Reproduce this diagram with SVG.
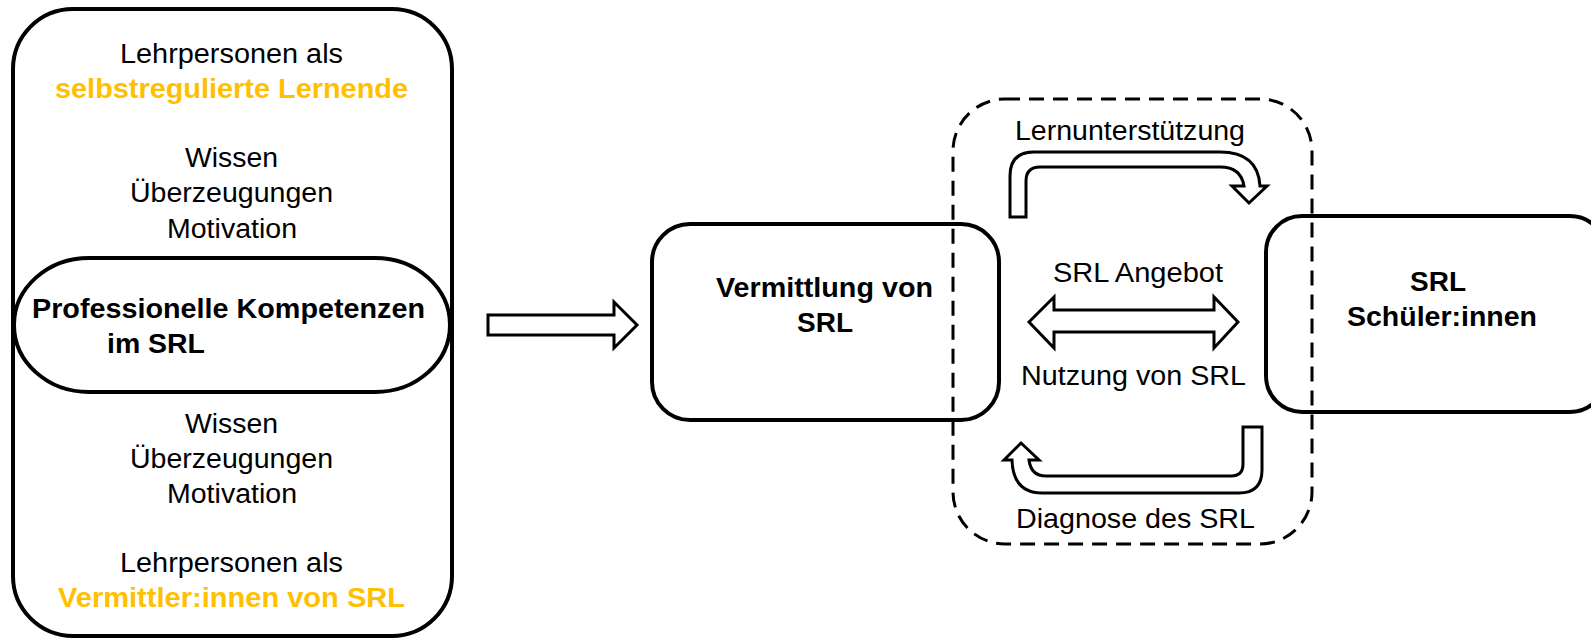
<svg xmlns="http://www.w3.org/2000/svg" width="1591" height="641" viewBox="0 0 1591 641">
<style>
text{font-family:"Liberation Sans",Arial,sans-serif;font-size:27px;fill:#000}
.b{font-weight:bold}
.o{fill:#FFC000}
.box{fill:none;stroke:#000;stroke-width:4}
.arr{fill:#fff;stroke:#000;stroke-width:3;stroke-linejoin:miter}
.dash{fill:none;stroke:#000;stroke-width:3;stroke-dasharray:15 9}
</style>
<rect width="1591" height="641" fill="#fff"/>
<g id="kompetenzen">
<rect class="box" x="13" y="9" width="439" height="627" rx="60" ry="60"/>
<rect class="box" x="14" y="258" width="436" height="134" rx="75" ry="67"/>
<text x="120" y="63" textLength="223" lengthAdjust="spacingAndGlyphs">Lehrpersonen als</text>
<text class="b o" x="55" y="98" textLength="353" lengthAdjust="spacingAndGlyphs">selbstregulierte Lernende</text>
<text x="185" y="167" textLength="93" lengthAdjust="spacingAndGlyphs">Wissen</text>
<text x="130" y="202" textLength="203" lengthAdjust="spacingAndGlyphs">Überzeugungen</text>
<text x="167" y="238" textLength="130" lengthAdjust="spacingAndGlyphs">Motivation</text>
<text class="b" x="32" y="318" textLength="393" lengthAdjust="spacingAndGlyphs">Professionelle Kompetenzen</text>
<text class="b" x="107" y="353" textLength="98" lengthAdjust="spacingAndGlyphs">im SRL</text>
<text x="185" y="433" textLength="93" lengthAdjust="spacingAndGlyphs">Wissen</text>
<text x="130" y="468" textLength="203" lengthAdjust="spacingAndGlyphs">Überzeugungen</text>
<text x="167" y="503" textLength="130" lengthAdjust="spacingAndGlyphs">Motivation</text>
<text x="120" y="572" textLength="223" lengthAdjust="spacingAndGlyphs">Lehrpersonen als</text>
<text class="b o" x="58" y="607" textLength="347" lengthAdjust="spacingAndGlyphs">Vermittler:innen von SRL</text>
</g>
<g id="vermittlung">
<rect class="box" x="652" y="224" width="347" height="196" rx="38" ry="38"/>
<text class="b" x="716" y="297" textLength="217" lengthAdjust="spacingAndGlyphs">Vermittlung von</text>
<text class="b" x="797" y="332" textLength="56" lengthAdjust="spacingAndGlyphs">SRL</text>
</g>
<g id="schueler">
<rect class="box" x="1266" y="216" width="340" height="196" rx="36" ry="36"/>
<text class="b" x="1410" y="291" textLength="56" lengthAdjust="spacingAndGlyphs">SRL</text>
<text class="b" x="1347" y="326" textLength="190" lengthAdjust="spacingAndGlyphs">Schüler:innen</text>
</g>
<g id="interaktion">
<rect class="dash" x="953" y="99" width="359" height="445" rx="52" ry="52"/>
</g>
<g id="connectors">
<path class="arr" d="M488,315 L614,315 L614,302 L637,325 L614,348 L614,335 L488,335 Z"/>
<path class="arr" d="M1010,217 L1010,176 Q1010,152 1034,152 L1220,152 Q1258,152 1260,186 L1267,186 L1249,203 L1232,186 L1244,186 Q1241,167 1220,167 L1040,167 Q1026,167 1026,181 L1026,217 Z"/>
<path class="arr" d="M1029,322 L1054,297 L1054,310 L1214,310 L1214,297 L1238,322 L1214,348 L1214,332 L1054,332 L1054,348 Z"/>
<path class="arr" d="M1243,427 L1262,427 L1262,470 Q1262,493 1239,493 L1042,493 Q1013,493 1012,460 L1004,460 L1021,443 L1039,460 L1029,460 Q1031,476 1046,476 L1231,476 Q1243,476 1243,464 Z"/>
<text x="1015" y="140" textLength="230" lengthAdjust="spacingAndGlyphs">Lernunterstützung</text>
<text x="1053" y="282" textLength="170" lengthAdjust="spacingAndGlyphs">SRL Angebot</text>
<text x="1021" y="385" textLength="225" lengthAdjust="spacingAndGlyphs">Nutzung von SRL</text>
<text x="1016" y="528" textLength="239" lengthAdjust="spacingAndGlyphs">Diagnose des SRL</text>
</g>
</svg>
